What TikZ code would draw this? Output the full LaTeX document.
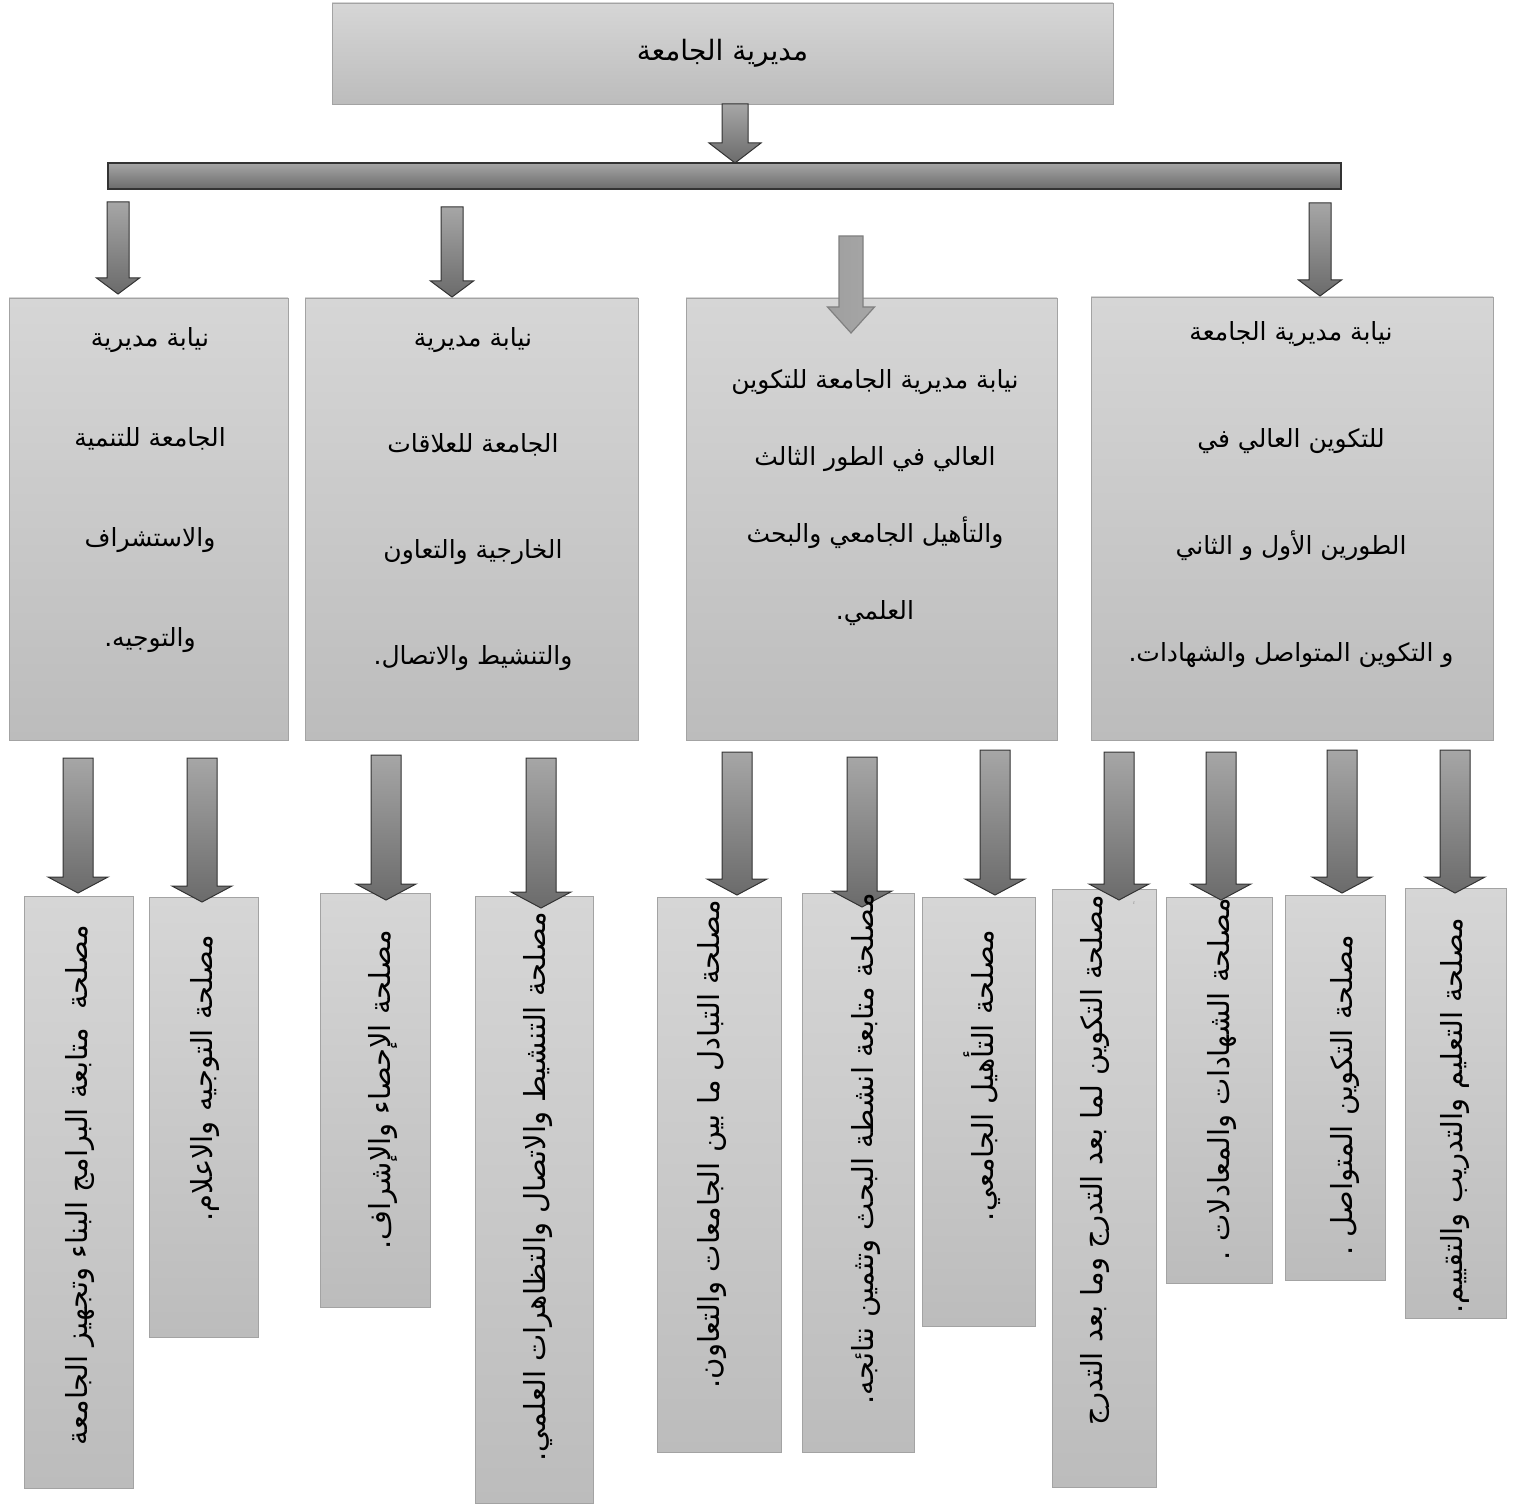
\documentclass[tikz,border=0pt]{standalone}
\usepackage{fontspec}
\newfontfamily\arabicfont[Script=Arabic]{DejaVu Sans}
\TeXXeTstate=1

\definecolor{boxtop}{HTML}{D6D6D6}
\definecolor{boxbot}{HTML}{BCBCBC}
\definecolor{boxline}{HTML}{A3A3A3}
\definecolor{arrtop}{HTML}{A6A6A6}
\definecolor{arrbot}{HTML}{6B6B6B}
\definecolor{arrline}{HTML}{333333}

\newcommand{\ar}[1]{\beginR #1\endR}
% block arrow pointing down: [style]{name}{top point}{length}{half shaft}{half head}{head length}
\newcommand{\blockarrow}[7][arr]{%
  \coordinate (#2) at (#3);
  \draw[#1] (#2) ++(-#5,0) -- ++(2*#5,0) -- ++(0,#4-#7) -- ++(#6-#5,0)
    -- ++(-#6,#7) -- ++(-#6,-#7) -- ++(#6-#5,0) -- cycle;}

\begin{document}
\begin{tikzpicture}[x=1pt, y=-1pt,
  box/.style = {draw=boxline, line width=0.8pt, top color=boxtop, bottom color=boxbot, inner sep=0},
  bar/.style = {draw=arrline, line width=1.2pt, top color=arrtop, bottom color=arrbot, inner sep=0},
  arr/.style = {draw=arrline, line width=1pt, top color=arrtop, bottom color=arrbot},
  light/.style = {draw=gray, line width=1.2pt, left color=gray!75, middle color=gray!12, right color=gray!70},
  txt/.style = {align=center, inner sep=0, font=\arabicfont\fontsize{25}{#1}\selectfont},
  vtxt/.style = {rotate=90, anchor=east, inner sep=0, font=\arabicfont\fontsize{29}{32}\selectfont}]

    \useasboundingbox (0,0) rectangle (1515,1506);

    % top and bar
    \node[box, minimum width=781, minimum height=101, font=\arabicfont\fontsize{28}{32}\selectfont] (head) at (722.5,53.5) {\ar{مديرية الجامعة}};
    \node[bar, minimum width=1233, minimum height=26] (bar) at (724.5,176) {};

    % second level
    \node[box, minimum width=279, minimum height=442] (dep1) at (148.5,519) {};
    \node[box, minimum width=333, minimum height=442] (dep2) at (471.5,519) {};
    \node[box, minimum width=371, minimum height=442] (dep3) at (871.5,519) {};
    \node[box, minimum width=402, minimum height=443] (dep4) at (1292,518.5) {};

    % services
    \node[box, minimum width=109, minimum height=592] (srv1) at (78.5,1192) {};
    \node[box, minimum width=109, minimum height=440] (srv2) at (203.5,1117) {};
    \node[box, minimum width=110, minimum height=414] (srv3) at (375,1100) {};
    \node[box, minimum width=118, minimum height=607] (srv4) at (534,1199.5) {};
    \node[box, minimum width=124, minimum height=555] (srv5) at (719,1174.5) {};
    \node[box, minimum width=112, minimum height=559] (srv6) at (858,1172.5) {};
    \node[box, minimum width=113, minimum height=429] (srv7) at (978.5,1111.5) {};
    \node[box, minimum width=104, minimum height=598] (srv8) at (1104,1188) {};
    \node[box, minimum width=106, minimum height=386] (srv9) at (1219,1090) {};
    \node[box, minimum width=100, minimum height=385] (srv10) at (1335,1087.5) {};
    \node[box, minimum width=101, minimum height=430] (srv11) at (1455.5,1103) {};

    % arrows
    \blockarrow{a0}{735,104}{59}{13}{26}{20}
    \blockarrow{b1}{118,202}{92}{11}{21.5}{16}
    \blockarrow{b2}{452,207}{90}{11}{21.5}{16}
    \blockarrow[light]{b3}{851,236}{97}{12}{23.5}{26}
    \blockarrow{b4}{1320,203}{93}{11}{21.5}{16}

    \blockarrow{c1}{78,758}{135}{15}{30}{16}
    \blockarrow{c2}{202,758}{144}{15}{30}{16}
    \blockarrow{c3}{386,755}{145}{15}{30}{16}
    \blockarrow{c4}{541,758}{150}{15}{30}{16}
    \blockarrow{c5}{737,752}{143}{15}{30}{16}
    \blockarrow{c6}{862,757}{150}{15}{30}{16}
    \blockarrow{c7}{995,750}{145}{15}{30}{16}
    \blockarrow{c8}{1119,752}{148}{15}{30}{16}
    \blockarrow{c9}{1221,752}{148}{15}{30}{16}
    \blockarrow{c10}{1342,750}{143}{15}{30}{16}
    \blockarrow{c11}{1455,750}{143}{15}{30}{16}

    % texts
    \node[txt=100] (t1) at (150,490) {\ar{نيابة مديرية}\\\ar{الجامعة للتنمية}\\\ar{والاستشراف}\\\ar{والتوجيه.}};
    \node[txt=106] (t2) at (473,499) {\ar{نيابة مديرية}\\\ar{الجامعة للعلاقات}\\\ar{الخارجية والتعاون}\\\ar{والتنشيط والاتصال.}};
    \node[txt=77] (t3) at (875,498) {\ar{نيابة مديرية الجامعة للتكوين}\\\ar{العالي في الطور الثالث}\\\ar{والتأهيل الجامعي والبحث}\\\ar{العلمي.}};
    \node[txt=107] (t4) at (1291,495) {\ar{نيابة مديرية الجامعة}\\\ar{للتكوين العالي في}\\\ar{الطورين الأول و الثاني}\\\ar{و التكوين المتواصل والشهادات.}};

    \node[vtxt] (s1) at (80,925) {\ar{مصلحة\ \ متابعة البرامج البناء وتجهيز الجامعة}};
    \node[vtxt] (s2) at (205,935) {\ar{مصلحة التوجيه والاعلام.}};
    \node[vtxt] (s3) at (383,930) {\ar{مصلحة الإحصاء والإشراف.}};
    \node[vtxt] (s4) at (538,912) {\ar{مصلحة التنشيط والاتصال والتظاهرات العلمي.}};
    \node[vtxt] (s5) at (712,900) {\ar{مصلحة التبادل ما بين الجامعات والتعاون.}};
    \node[vtxt] (s6) at (866,893) {\ar{مصلحة متابعة انشطة البحث وتثمين نتائجه.}};
    \node[vtxt] (s7) at (982,930) {\ar{مصلحة التأهيل الجامعي.}};
    \node[vtxt] (s8) at (1095,895) {\ar{مصلحة التكوين لما بعد التدرج وما بعد التدرج}};
    \node[vtxt] (s9) at (1222,898) {\ar{مصلحة الشهادات والمعادلات .}};
    \node[vtxt] (s10) at (1345,935) {\ar{مصلحة التكوين المتواصل .}};
    \node[vtxt] (s11) at (1455,918) {\ar{مصلحة التعليم والتدريب والتقييم.}};
    \node[inner sep=0, font=\arabicfont\fontsize{4}{4}\selectfont] (mark) at (1134,903) {\ar{؛}};
\end{tikzpicture}
\end{document}
